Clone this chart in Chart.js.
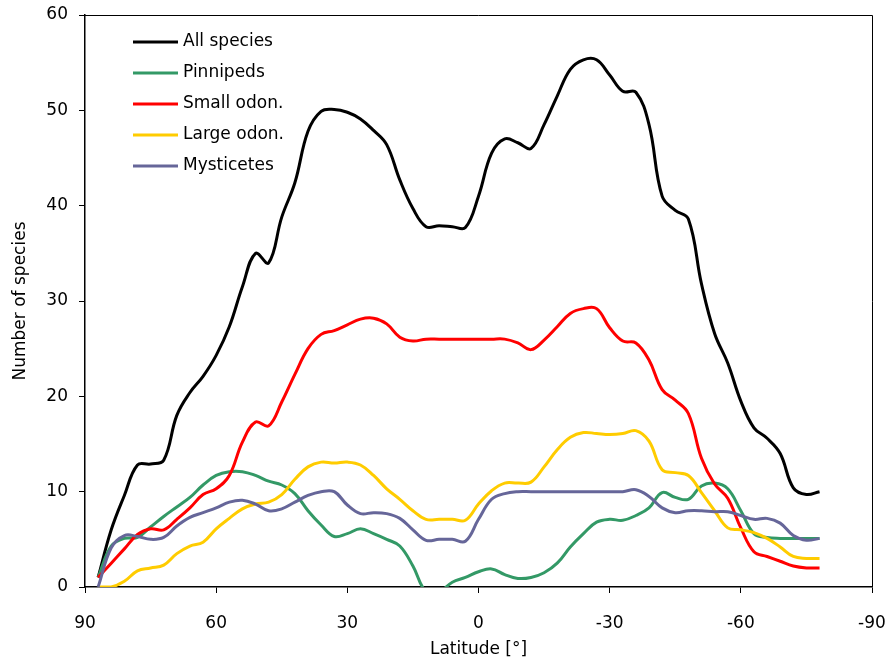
<!DOCTYPE html>
<html>
<head>
<meta charset="utf-8">
<script src="https://cdn.jsdelivr.net/npm/chart.js@4.4.0/dist/chart.umd.min.js"></script>
<style>
  body { margin: 0; background: #fff; }
</style>
</head>
<body>
<canvas id="speciesChart" width="888" height="660"></canvas>
<script>
// latitude of each sample, north to south
const latitudes = [87, 84, 81, 78, 75, 72, 69, 66, 63, 60, 57, 54, 51, 48, 45, 42, 39, 36, 33, 30,
  27, 24, 21, 18, 15, 12, 9, 6, 3, 0, -3, -6, -9, -12, -15, -18, -21, -24, -27, -30,
  -33, -36, -39, -42, -45, -48, -51, -54, -57, -60, -63, -66, -69, -72, -75, -78];

const allSpecies = [1.0, 6.0, 9.6, 12.8, 12.9, 13.3, 18.0, 20.4, 22.1, 24.3, 27.3, 31.5, 35.0, 34.0, 38.8, 42.4, 47.8, 49.9, 50.1, 49.8,
  49.1, 47.9, 46.4, 42.7, 39.7, 37.8, 37.9, 37.8, 37.7, 41.0, 45.5, 47.0, 46.6, 46.0, 48.5, 51.5, 54.3, 55.3, 55.3, 53.7,
  52.0, 51.9, 48.5, 41.0, 39.5, 38.6, 31.8, 26.6, 23.5, 19.5, 16.7, 15.6, 14.0, 10.4, 9.7, 10.0];

const pinnipeds = [1.0, 4.3, 5.1, 5.2, 6.3, 7.4, 8.4, 9.4, 10.7, 11.7, 12.1, 12.1, 11.7, 11.1, 10.7, 9.8, 8.0, 6.5, 5.3, 5.6,
  6.1, 5.6, 5.0, 4.3, 2.2, -0.5, -0.5, 0.5, 1.0, 1.6, 1.9, 1.3, 0.9, 1.0, 1.5, 2.5, 4.2, 5.6, 6.8, 7.1,
  7.0, 7.5, 8.3, 9.9, 9.4, 9.2, 10.6, 10.9, 10.3, 8.0, 5.6, 5.2, 5.1, 5.1, 5.1, 5.1];

const smallOdon = [1.0, 2.5, 4.0, 5.5, 6.1, 6.0, 7.1, 8.3, 9.7, 10.3, 11.7, 15.2, 17.3, 16.9, 19.4, 22.3, 25.0, 26.5, 26.9, 27.5,
  28.1, 28.2, 27.6, 26.2, 25.8, 26.0, 26.0, 26.0, 26.0, 26.0, 26.0, 26.0, 25.6, 24.9, 25.9, 27.3, 28.7, 29.2, 29.2, 27.2,
  25.8, 25.6, 23.8, 20.7, 19.6, 18.2, 13.5, 10.8, 9.3, 6.2, 3.7, 3.2, 2.7, 2.2, 2.0, 2.0];

const largeOdon = [0.0, 0.0, 0.6, 1.7, 2.0, 2.3, 3.5, 4.3, 4.7, 6.1, 7.2, 8.2, 8.7, 8.9, 9.7, 11.3, 12.6, 13.1, 13.0, 13.1,
  12.8, 11.7, 10.3, 9.2, 8.0, 7.1, 7.1, 7.1, 7.0, 8.7, 10.1, 10.9, 10.9, 11.0, 12.6, 14.4, 15.7, 16.2, 16.1, 16.0,
  16.1, 16.4, 15.3, 12.3, 12.0, 11.7, 9.9, 8.0, 6.2, 6.0, 5.7, 5.1, 4.2, 3.2, 3.0, 3.0];

const mysticetes = [0.0, 4.1, 5.4, 5.3, 5.0, 5.2, 6.4, 7.3, 7.8, 8.3, 8.9, 9.1, 8.7, 8.0, 8.2, 8.9, 9.6, 10.0, 10.0, 8.6,
  7.7, 7.8, 7.7, 7.2, 6.0, 4.9, 5.0, 5.0, 4.8, 7.1, 9.2, 9.8, 10.0, 10.0, 10.0, 10.0, 10.0, 10.0, 10.0, 10.0,
  10.0, 10.2, 9.5, 8.3, 7.8, 8.0, 8.0, 7.9, 7.9, 7.5, 7.1, 7.2, 6.7, 5.4, 4.9, 5.1];

const seriesNames = ['All species', 'Pinnipeds', 'Small odon.', 'Large odon.', 'Mysticetes'];
const seriesValues = [allSpecies, pinnipeds, smallOdon, largeOdon, mysticetes];
const seriesColors = ['#000000', '#339966', '#FF0000', '#FFCC00', '#666699'];

const xTicks = [90, 60, 30, 0, -30, -60, -90];
const yTicks = [0, 10, 20, 30, 40, 50, 60];

Chart.defaults.font.family = '"DejaVu Sans", sans-serif';
Chart.defaults.font.size = 17;
Chart.defaults.color = '#000';

// thin frame on top and right of the plot area
const plotFrame = {
  id: 'plotFrame',
  beforeDatasetsDraw(chart) {
    const { ctx, chartArea: a } = chart;
    ctx.save();
    ctx.strokeStyle = '#000';
    ctx.lineWidth = 1;
    ctx.beginPath();
    ctx.moveTo(a.left, a.top + 0.5);
    ctx.lineTo(a.right + 0.5, a.top + 0.5);
    ctx.lineTo(a.right + 0.5, a.bottom);
    ctx.stroke();
    ctx.restore();
  }
};

// legend drawn inside the plot, top left
const insideLegend = {
  id: 'insideLegend',
  afterDraw(chart) {
    const { ctx, chartArea: a } = chart;
    ctx.save();
    ctx.font = '17px "DejaVu Sans"';
    ctx.textBaseline = 'middle';
    ctx.fillStyle = '#000';
    chart.data.datasets.forEach((ds, i) => {
      const y = a.top + 27 + i * 31;
      ctx.strokeStyle = ds.borderColor;
      ctx.lineWidth = 3;
      ctx.beginPath();
      ctx.moveTo(a.left + 48, y);
      ctx.lineTo(a.left + 93, y);
      ctx.stroke();
      ctx.fillText(ds.label, a.left + 98, y);
    });
    ctx.restore();
  }
};

const ctx = document.getElementById('speciesChart').getContext('2d');
const speciesChart = new Chart(ctx, {
  type: 'line',
  data: {
    labels: latitudes,
    datasets: seriesNames.map((name, i) => ({
      label: name,
      data: latitudes.map((lat, j) => ({ x: lat, y: seriesValues[i][j] })),
      borderColor: seriesColors[i],
      backgroundColor: seriesColors[i],
      borderWidth: 3,
      pointRadius: 0,
      fill: false,
      tension: 0.4,
      clip: 0,
      order: seriesNames.length - i
    }))
  },
  options: {
    responsive: false,
    animation: false,
    devicePixelRatio: 1,
    layout: { padding: { top: 15, right: 16, left: 0, bottom: 0 } },
    scales: {
      x: {
        type: 'linear',
        reverse: true,
        min: -90,
        max: 90,
        z: 1,
        afterBuildTicks: s => { s.ticks = xTicks.map(v => ({ value: v })); },
        afterFit: s => { s.height = 73; s.paddingLeft = 0; s.paddingRight = 0; },
        border: { color: '#000', width: 1.5 },
        grid: { drawOnChartArea: false, color: '#000', tickLength: 6 },
        ticks: { padding: 20, maxRotation: 0, color: '#000' },
        title: { display: true, text: 'Latitude [°]', padding: { top: 0, bottom: 0 }, font: { size: 17 } }
      },
      y: {
        min: 0,
        max: 60,
        z: 1,
        afterBuildTicks: s => { s.ticks = yTicks.map(v => ({ value: v })); },
        afterFit: s => { s.width = 85; s.paddingTop = 0; s.paddingBottom = 0; },
        border: { color: '#000', width: 1.5 },
        grid: { drawOnChartArea: false, color: '#000', tickLength: 6 },
        ticks: { padding: 11, color: '#000' },
        title: { display: true, text: 'Number of species', padding: { top: 10, bottom: 0 }, font: { size: 17 } }
      }
    },
    plugins: {
      legend: { display: false },
      tooltip: { enabled: false }
    }
  },
  plugins: [plotFrame, insideLegend]
});
</script>
</body>
</html>
